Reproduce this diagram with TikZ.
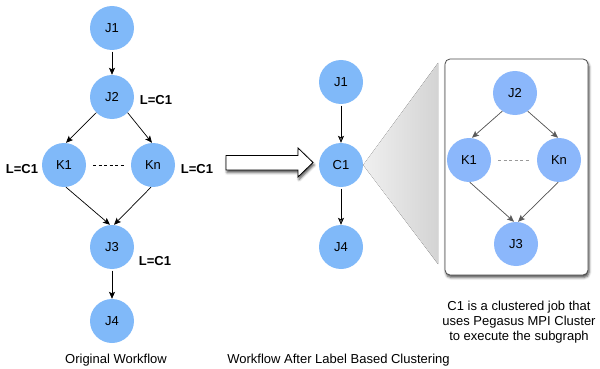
\documentclass[tikz,border=0pt]{standalone}
\usepackage{fontspec}
\setmainfont{Liberation Sans}
\usetikzlibrary{arrows.meta,shadows.blur}
\definecolor{jobblue}{HTML}{80B9F9}
\definecolor{subblue}{HTML}{8BB7FB}
\begin{document}
\begin{tikzpicture}[x=1pt,y=-1pt,
  txt/.style={font=\fontsize{13}{16}\selectfont},
  job/.style={circle, fill=jobblue, minimum size=44pt, inner sep=0pt, txt},
  subjob/.style={job, fill=subblue},
  lbl/.style={font=\fontsize{13}{16}\selectfont\bfseries},
  flow/.style={-{Stealth[length=7pt,width=6pt,inset=1.5pt]}, line width=0.7pt},
  subflow/.style={flow, draw=black!65, fill=black!65},
  dots/.style={dash pattern=on 3pt off 2.5pt, line width=0.7pt},
  softshadow/.style={blur shadow={shadow xshift=1pt, shadow yshift=-2.5pt,
      shadow blur radius=2.5pt, shadow opacity=70}},
]
\useasboundingbox (0,0) rectangle (600,369);

% original workflow
\node[job] (j1) at (112,28) {J1};
\node[job] (j2) at (112,97) {J2};
\node[job] (k1) at (64,165) {K1};
\node[job] (kn) at (153,165) {Kn};
\node[job] (j3) at (112,247) {J3};
\node[job] (j4) at (112,321) {J4};

\node[lbl] (l2) at (156,100) {L=C1};
\node[lbl] (lk1) at (22,169) {L=C1};
\node[lbl] (lkn) at (197,169) {L=C1};
\node[lbl] (l3) at (155,261) {L=C1};

\draw[flow] ([yshift=-1.5pt]j1.south) -- (j2.north);
\draw[flow] (j2.-135) -- ([xshift=2pt]k1.north);
\draw[flow] (j2.-45) -- ([xshift=-1pt]kn.north);
\draw[flow] (k1.-85) -- ([xshift=-2pt]j3.north);
\draw[flow] (kn.-95) -- ([xshift=2pt]j3.north);
\draw[flow] ([yshift=-1.5pt]j3.south) -- (j4.north);
\draw[dots] ([xshift=7pt]k1.east) -- ([xshift=-7pt]kn.west);

\node[txt] (orig) at (116,360) {Original Workflow};

% transformation arrow
\path[draw=black, line width=0.8pt, fill=white, softshadow]
  (226,155.5) -- (298,155.5) -- (298,148) -- (313,162.5)
  -- (298,177) -- (298,170) -- (226,170) -- cycle;

% clustered workflow
\node[job] (m1) at (341,82) {J1};
\node[job] (c1) at (341,165) {C1};
\node[job] (m4) at (341,247) {J4};
\draw[flow] ([yshift=-1.5pt]m1.south) -- (c1.north);
\draw[flow] ([yshift=-1.5pt]c1.south) -- (m4.north);

\node[txt] (after) at (338.5,360) {Workflow After Label Based Clustering};

% zoom wedge and cluster box
\coordinate (wtop) at (438,63);
\coordinate (wbot) at (438,264);
\fill[left color=black!6, right color=black!17] (c1.east) -- (wtop) -- (wbot) -- cycle;

\node[draw=black!70, line width=0.8pt, rounded corners=5pt, fill=white,
      minimum width=143pt, minimum height=216pt, inner sep=0pt, softshadow]
      (box) at (516.5,167) {};

\node[subjob] (s2) at (515,93) {J2};
\node[subjob] (sk1) at (469,160) {K1};
\node[subjob] (skn) at (559,160) {Kn};
\node[subjob] (s3) at (516,244) {J3};

\draw[subflow] (s2.-125) -- ([xshift=3pt]sk1.north);
\draw[subflow] (s2.-55) -- ([xshift=-1pt]skn.north);
\draw[subflow] (sk1.-88) -- ([xshift=-2pt]s3.north);
\draw[subflow] (skn.-92) -- ([xshift=2pt]s3.north);
\draw[dots, draw=black!40] ([xshift=7pt]sk1.east) -- ([xshift=-7pt]skn.west);

\node[align=center, font=\fontsize{13}{15}\selectfont] (note) at (519,322)
  {C1 is a clustered job that\\uses Pegasus MPI Cluster\\to execute the subgraph};
\end{tikzpicture}
\end{document}
